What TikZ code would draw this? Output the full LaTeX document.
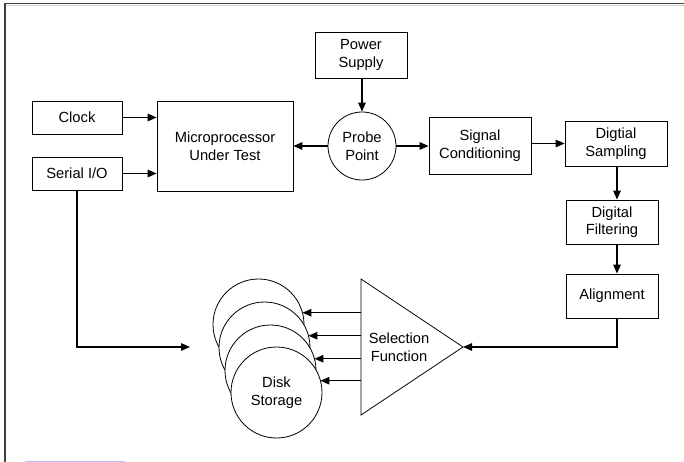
\documentclass[tikz,border=0pt]{standalone}
\usepackage{fontspec}
\setmainfont{Liberation Sans}
\usetikzlibrary{arrows.meta,calc}
\begin{document}
\begin{tikzpicture}[x=1pt,y=-1pt,
  font=\fontsize{14.7}{17.5}\selectfont,
  blk/.style={draw,line width=0.8pt,inner sep=0pt,align=center,minimum width=#1},
  disk/.style={draw,circle,fill=white,line width=0.8pt,minimum size=91pt,inner sep=0pt,outer sep=0pt,align=center},
  arr/.style={line width=1.3pt,-{Triangle[length=9pt,width=7.5pt]}},
  ln/.style={line width=1.3pt}]
\useasboundingbox (0,0) rectangle (684,462);
% frame
\draw[line width=1.5pt,black!75] (684,3.5) -- (5,3.5) -- (5,462);
\draw[line width=0.8pt,black!20] (6,5.3) -- (684,5.3);
\draw[line width=2pt,blue!25] (25,461.5) -- (125,461.5);
% blocks
\node[blk=92pt,minimum height=46pt] (power) at (361,55) {Power\\Supply};
\node[draw,circle,line width=0.8pt,minimum size=68pt,inner sep=0pt,align=center] (probe) at (362,146) {Probe\\Point};
\node[blk=102pt,minimum height=57pt] (sig) at (480,145.5) {Signal\\Conditioning};
\node[blk=102pt,minimum height=45pt] (samp) at (616,143.5) {Digtial\\Sampling};
\node[blk=92pt,minimum height=44pt] (filt) at (612,222) {Digital\\Filtering};
\node[blk=92pt,minimum height=44pt] (align) at (612,296) {Alignment};
\node[blk=90pt,minimum height=33pt] (clock) at (77,117.5) {Clock};
\node[blk=90pt,minimum height=33pt] (serial) at (77,173.5) {Serial I/O};
\node[blk=136pt,minimum height=90pt] (micro) at (225,146) {Microprocessor\\Under Test};
% disks
\node[disk] (d1) at (258.5,324.5) {};
\node[disk] (d2) at (264.5,347.5) {};
\node[disk] (d3) at (270.5,370.5) {};
\node[disk] (d4) at (276.5,392.5) {Disk\\Storage};
% selection triangle
\coordinate (ta) at (361,279);
\coordinate (tb) at (361,415);
\coordinate (tip) at (463,347);
\draw[line width=0.8pt] (ta) -- (tip) -- (tb) -- cycle;
\node[align=center,inner sep=0pt] (sel) at (399,347) {Selection\\Function};
% connectors
\coordinate (vx) at (617,0);
\coordinate (serend) at (190,347);
\draw[arr] (power.south -| probe) -- (probe.north);
\draw[arr] (probe.west) -- (probe.west -| micro.east);
\draw[arr] (probe.east) -- (probe.east -| sig.west);
\draw[arr] (sig.east |- samp.west) -- (samp.west);
\draw[arr] (samp.south -| vx) -- (filt.north -| vx);
\draw[arr] (filt.south -| vx) -- (align.north -| vx);
\draw[arr] (align.south -| vx) |- (tip);
\draw[arr] (clock.east) -- (clock.east -| micro.west);
\draw[arr] (serial.east) -- (serial.east -| micro.west);
\draw[arr] (serial.south) |- (serend);
\foreach \d in {d1,d2,d3,d4}
  \draw[arr] (\d.15 -| ta) -- (\d.15);
\end{tikzpicture}
\end{document}
